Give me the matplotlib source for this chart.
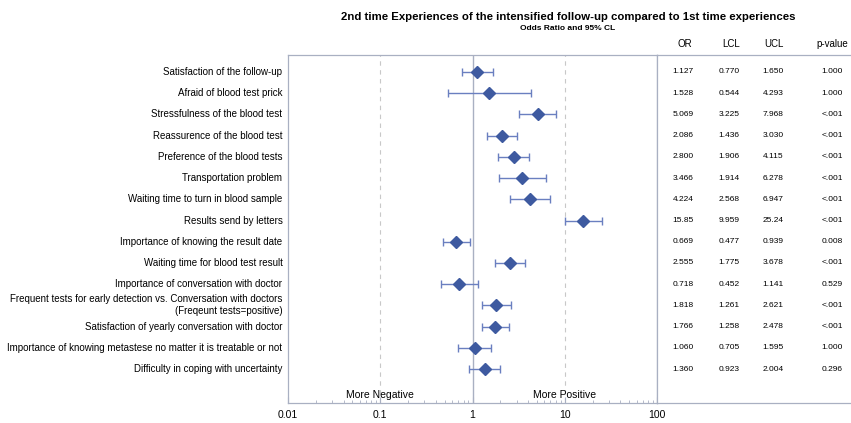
import numpy as np
import matplotlib
matplotlib.use("Agg")
import matplotlib.pyplot as plt

plt.rcParams['font.family'] = ['Liberation Sans', 'DejaVu Sans']

labels = [
    "Satisfaction of the follow-up",
    "Afraid of blood test prick",
    "Stressfulness of the blood test",
    "Reassurence of the blood test",
    "Preference of the blood tests",
    "Transportation problem",
    "Waiting time to turn in blood sample",
    "Results send by letters",
    "Importance of knowing the result date",
    "Waiting time for blood test result",
    "Importance of conversation with doctor",
    "Frequent tests for early detection vs. Conversation with doctors\n(Freqeunt tests=positive)",
    "Satisfaction of yearly conversation with doctor",
    "Importance of knowing metastese no matter it is treatable or not",
    "Difficulty in coping with uncertainty",
]
odds = [1.127, 1.528, 5.069, 2.086, 2.800, 3.466, 4.224, 15.85, 0.669, 2.555, 0.718, 1.818, 1.766, 1.060, 1.360]
lcl = [0.770, 0.544, 3.225, 1.436, 1.906, 1.914, 2.568, 9.959, 0.477, 1.775, 0.452, 1.261, 1.258, 0.705, 0.923]
ucl = [1.650, 4.293, 7.968, 3.030, 4.115, 6.278, 6.947, 25.24, 0.939, 3.678, 1.141, 2.621, 2.478, 1.595, 2.004]
or_txt = ["1.127", "1.528", "5.069", "2.086", "2.800", "3.466", "4.224", "15.85", "0.669", "2.555", "0.718", "1.818", "1.766", "1.060", "1.360"]
lcl_txt = ["0.770", "0.544", "3.225", "1.436", "1.906", "1.914", "2.568", "9.959", "0.477", "1.775", "0.452", "1.261", "1.258", "0.705", "0.923"]
ucl_txt = ["1.650", "4.293", "7.968", "3.030", "4.115", "6.278", "6.947", "25.24", "0.939", "3.678", "1.141", "2.621", "2.478", "1.595", "2.004"]
p_txt = ["1.000", "1.000", "<.001", "<.001", "<.001", "<.001", "<.001", "<.001", "0.008", "<.001", "0.529", "<.001", "<.001", "1.000", "0.296"]
headers = ["OR", "LCL", "UCL", "p-value"]
xticks = [0.01, 0.1, 1, 10, 100]
xtick_labels = ["0.01", "0.1", "1", "10", "100"]

W, H = 851, 423
frame_col = "#a9b0c2"
marker_col = "#3e5aa0"
bar_col = "#6a7fc0"

fig = plt.figure(figsize=(W / 100, H / 100), dpi=100)

x0, x1, xt = 288, 657, 851
ytop, ybot = 55, 403
ax = fig.add_axes([x0 / W, 1 - ybot / H, (x1 - x0) / W, (ybot - ytop) / H])
tab = fig.add_axes([x1 / W, 1 - ybot / H, (xt - x1) / W, (ybot - ytop) / H])

n = len(labels)
y = np.arange(n)
odds = np.array(odds)
err = np.array([odds - np.array(lcl), np.array(ucl) - odds])
ylim = (n - 1 + 1.6, -0.8)

ax.set_xscale("log")
ax.set_xlim(0.01, 100)
ax.set_ylim(*ylim)

ax.axvline(1, color=frame_col, lw=1.0, zorder=1)
for v in (0.1, 10):
    ax.axvline(v, color="#c8c8c8", lw=0.8, ls=(0, (4, 4)), zorder=1)

ax.errorbar(odds, y, xerr=err, fmt="none", ecolor=bar_col, elinewidth=1.0,
            capsize=3, capthick=1.0, zorder=2)
ax.plot(odds, y, ls="none", marker="D", ms=6.5, color=marker_col, zorder=3)

ax.set_xticks(xticks)
ax.set_xticklabels(xtick_labels)
ax.tick_params(axis="x", which="major", direction="in", length=4, color=frame_col,
               labelsize=7.5, pad=5)
ax.tick_params(axis="x", which="minor", direction="in", length=2, color=frame_col)
ax.set_yticks([])
for s in ax.spines.values():
    s.set_color(frame_col)
    s.set_linewidth(0.9)

ax.text(0.1, 15.2, "More Negative", ha="center", va="center", fontsize=7.5)
ax.text(10, 15.2, "More Positive", ha="center", va="center", fontsize=7.5)

for i, lab in enumerate(labels):
    ax.text(-0.015, i, lab, transform=ax.get_yaxis_transform(), ha="right",
            va="center", fontsize=7, linespacing=1.25, multialignment="right")

# table on the right
tab.set_xlim(x1, xt)
tab.set_ylim(*ylim)
tab.set_xticks([])
tab.set_yticks([])
for k, s in tab.spines.items():
    s.set_color(frame_col)
    s.set_linewidth(0.9)
tab.spines["right"].set_visible(False)

head_x = [685, 731, 774, 832]
col_x = [683, 729, 773, 832]
for cx, h in zip(head_x, headers):
    tab.text(cx, -1.3, h, ha="center", va="center", fontsize=7, clip_on=False)
for c, vals in enumerate([or_txt, lcl_txt, ucl_txt, p_txt]):
    for i, v in enumerate(vals):
        tab.text(col_x[c], i, v, ha="center", va="center", fontsize=6)

fig.text(568 / W, 1 - 17 / H, "2nd time Experiences of the intensified follow-up compared to 1st time experiences",
         ha="center", va="center", fontsize=8.2, fontweight="bold")
fig.text(568 / W, 1 - 29 / H, "Odds Ratio and 95% CL", ha="center", va="center",
         fontsize=6, fontweight="bold")

fig.savefig("out.png", dpi=100)
